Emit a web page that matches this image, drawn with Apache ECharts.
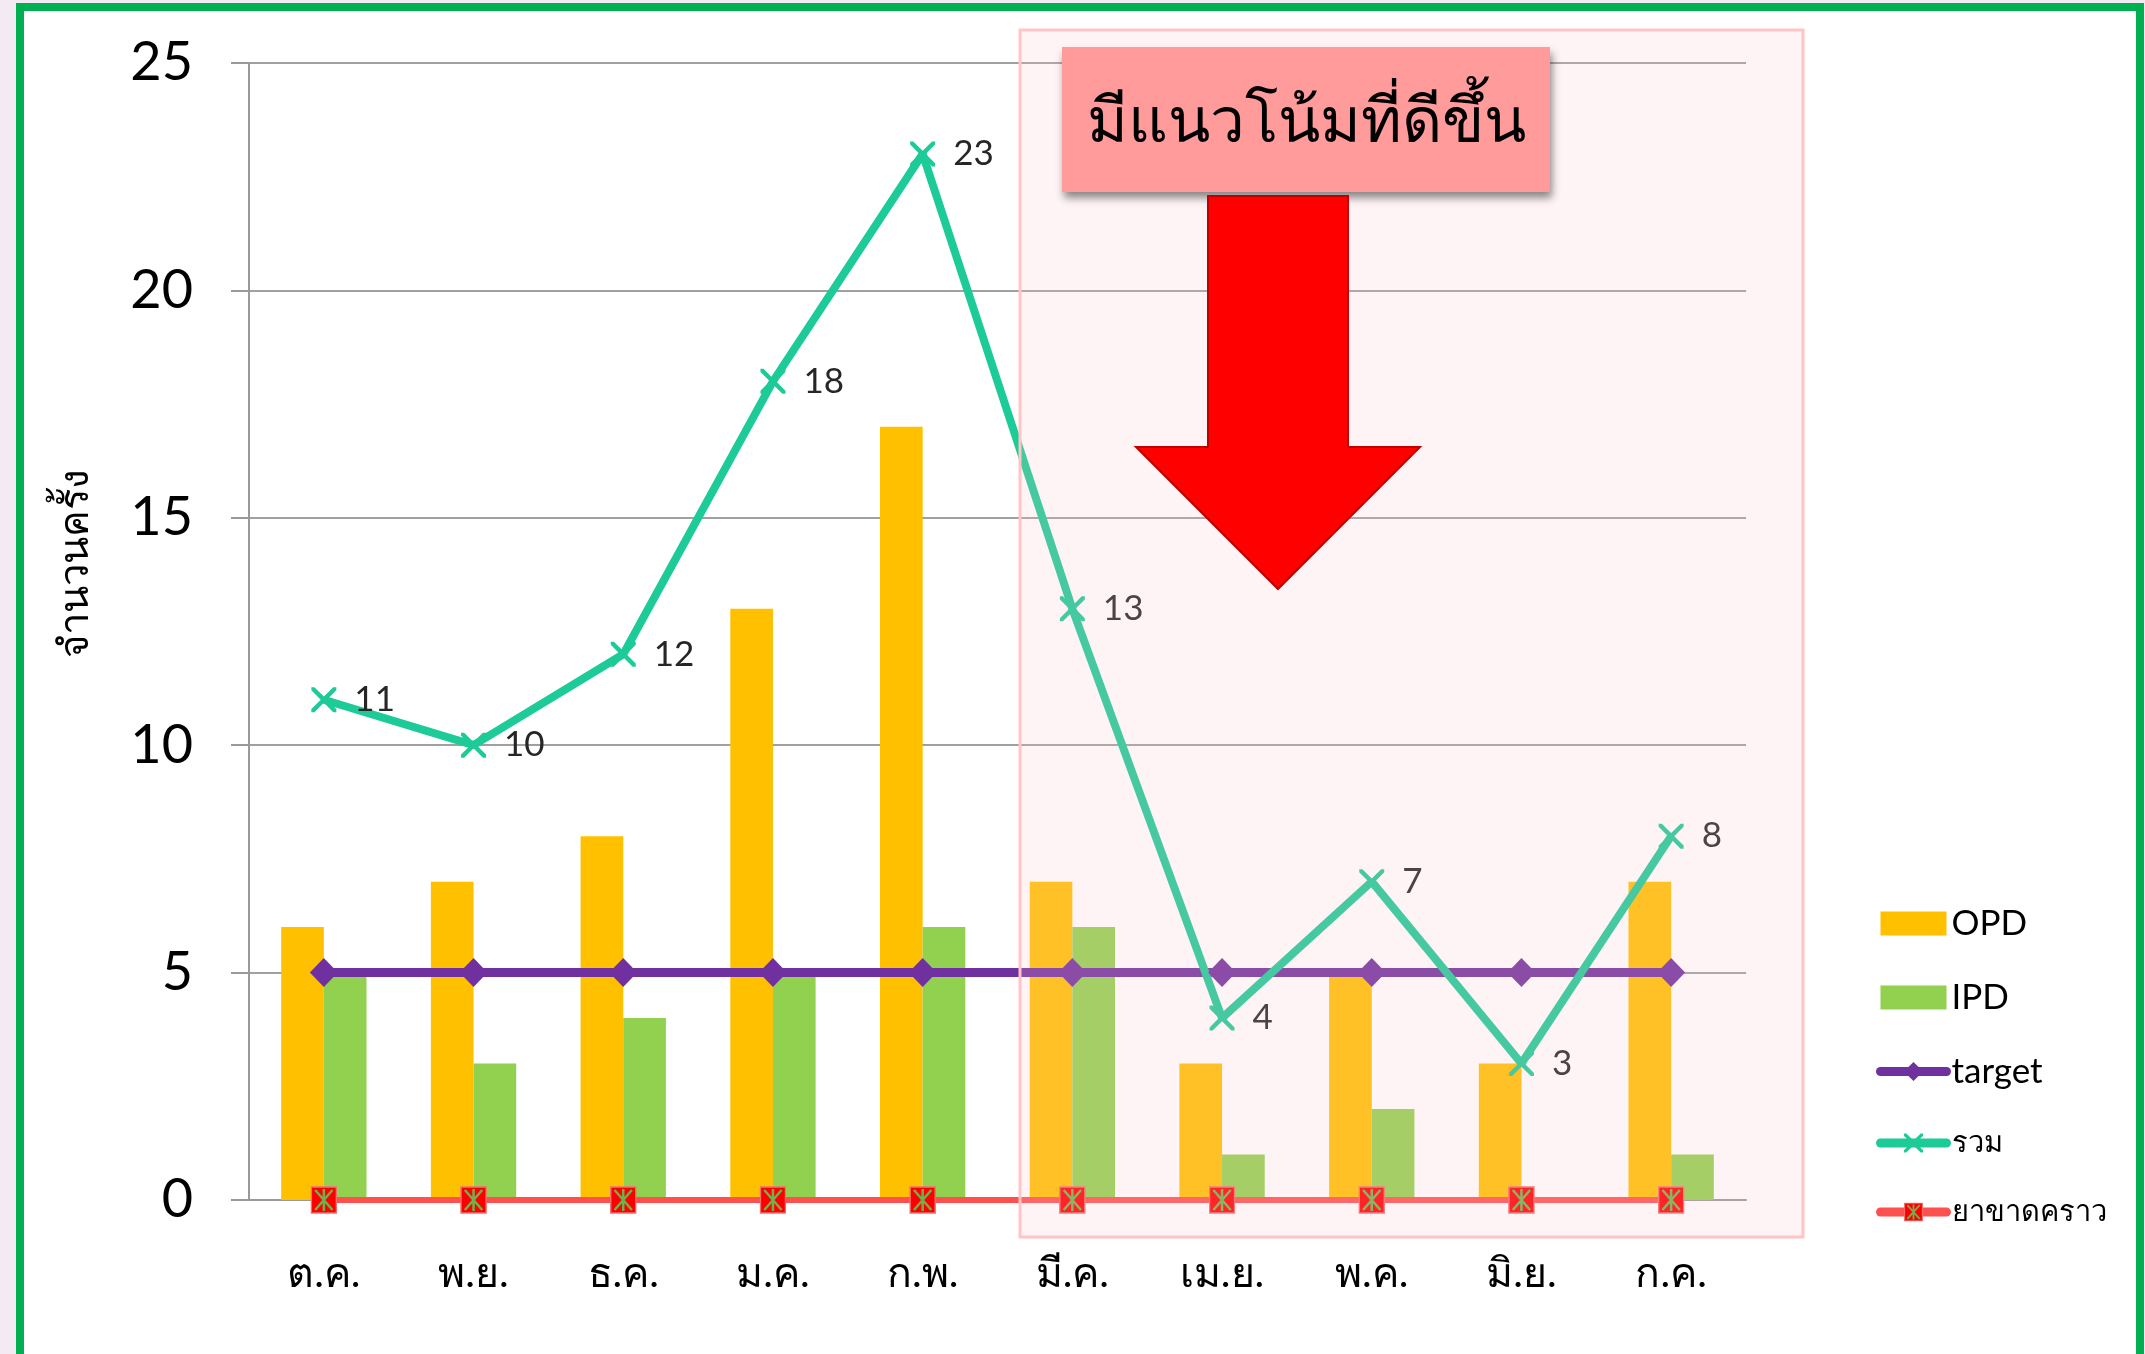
<!DOCTYPE html>
<html>
<head>
<meta charset="utf-8">
<style>
	html,body{
		margin:0;
		padding:0;
		width:2145px;
		height:1354px;
		overflow:hidden;
		background:#F4EAF4;
	}
	.frame{
		position:absolute;
		left:16px;
		top:3px;
		width:2112px;
		height:1400px;
		background:#fff;
		border:8px solid #00B050;
	}
	#main{
		position:absolute;
		left:0;
		top:0;
		width:2145px;
		height:1354px;
	}
</style>
<script src="https://cdn.jsdelivr.net/npm/echarts@6/dist/echarts.min.js"></script>
</head>
<body>
<div class="frame"></div>
<div id="main"></div>
<script>
var months = ['ต.ค.', 'พ.ย.', 'ธ.ค.', 'ม.ค.', 'ก.พ.', 'มี.ค.', 'เม.ย.', 'พ.ค.', 'มิ.ย.', 'ก.ค.'];
var opd = [6, 7, 8, 13, 17, 7, 3, 5, 3, 7];
var ipd = [5, 3, 4, 5, 6, 6, 1, 2, 0, 1];
var target = [5, 5, 5, 5, 5, 5, 5, 5, 5, 5];
var total = [11, 10, 12, 18, 23, 13, 4, 7, 3, 8];
var missing = [0, 0, 0, 0, 0, 0, 0, 0, 0, 0];
var yTicks = [0, 5, 10, 15, 20, 25];

var font = 'Lato, "Noto Sans", sans-serif';

// X mark for the total line
var crossPath = 'path://M0,0 L2.5,0 L10,7.5 L17.5,0 L20,0 L20,2.5 L12.5,10 L20,17.5 L20,20 L17.5,20 L10,12.5 L2.5,20 L0,20 L0,17.5 L7.5,10 L0,2.5 Z';

// red box with green star marker
var starSvg = "<svg xmlns='http://www.w3.org/2000/svg' width='28' height='28' viewBox='0 0 28 28'>" +
	"<rect x='1' y='1' width='26' height='26' fill='#FF0000' stroke='#F07070' stroke-width='1.5'/>" +
	"<path d='M5 4 L23 24 M23 4 L5 24 M14 3 L14 25' stroke='#72B04E' stroke-width='2.6'/></svg>";
var starSymbol = 'image://data:image/svg+xml;charset=utf-8,' + encodeURIComponent(starSvg);

var legendLine = {width: 9, cap: 'round'};

var myChart = echarts.init(document.getElementById('main'));
var option = {
	backgroundColor: 'transparent',
	animation: false,
	grid: {
		left: 249,
		right: 399,
		top: 63,
		bottom: 154
	},
	legend: {
		orient: 'vertical',
		left: 1871,
		top: 901,
		itemWidth: 66,
		itemHeight: 24,
		itemGap: 39,
		formatter: function(name){
			// thai names are drawn a bit smaller
			return /[A-Za-z]/.test(name) ? name : '{th|' + name + '}';
		},
		textStyle: {
			fontFamily: font,
			fontSize: 35,
			lineHeight: 30,
			color: '#000',
			rich: {
				th: {fontFamily: font, fontSize: 29, lineHeight: 30, color: '#000'}
			}
		},
		data: [
			{name: 'OPD', icon: 'rect'},
			{name: 'IPD', icon: 'rect'},
			{name: 'target', lineStyle: legendLine},
			{name: 'รวม', lineStyle: legendLine},
			{name: 'ยาขาดคราว', lineStyle: legendLine}
		]
	},
	xAxis: {
		type: 'category',
		data: months,
		axisLine: {lineStyle: {color: '#999', width: 2}},
		axisTick: {length: 18, lineStyle: {color: '#999', width: 2}},
		axisLabel: {
			margin: 53,
			fontFamily: font,
			fontSize: 41,
			color: '#000'
		}
	},
	yAxis: {
		type: 'value',
		min: yTicks[0],
		max: yTicks[yTicks.length - 1],
		interval: 5,
		axisLine: {show: true, lineStyle: {color: '#999', width: 2}},
		axisTick: {show: true, length: 18, lineStyle: {color: '#999', width: 2}},
		axisLabel: {
			margin: 56,
			fontFamily: font,
			fontSize: 54,
			color: '#000'
		},
		splitLine: {lineStyle: {color: '#A0A0A0', width: 2}}
	},
	series: [
		{
			name: 'OPD',
			type: 'bar',
			barGap: '0%',
			barCategoryGap: '43%',
			itemStyle: {color: '#FFC000'},
			data: opd
		},
		{
			name: 'IPD',
			type: 'bar',
			itemStyle: {color: '#92D050'},
			data: ipd
		},
		{
			name: 'target',
			type: 'line',
			symbol: 'diamond',
			symbolSize: [28, 29],
			lineStyle: {color: '#7030A0', width: 9},
			itemStyle: {color: '#7030A0'},
			data: target
		},
		{
			name: 'รวม',
			type: 'line',
			symbol: crossPath,
			symbolSize: 25,
			lineStyle: {color: '#1CCB97', width: 8},
			itemStyle: {color: '#1CCB97'},
			label: {
				show: true,
				position: 'right',
				distance: 18,
				fontFamily: font,
				fontSize: 35,
				color: '#262626'
			},
			data: total
		},
		{
			name: 'ยาขาดคราว',
			type: 'line',
			symbol: starSymbol,
			symbolSize: [27, 28],
			lineStyle: {color: '#FF5050', width: 6},
			itemStyle: {color: '#FF5050'},
			data: missing
		}
	],
	graphic: [
		{
			// y axis title, sits above the axis middle like the original
			type: 'text',
			rotation: Math.PI / 2,
			x: 75,
			y: 563,
			style: {
				text: 'จำนวนครั้ง',
				fontFamily: font,
				fontSize: 40,
				fill: '#000',
				align: 'center',
				verticalAlign: 'middle'
			}
		},
		{
			type: 'rect',
			z: 50,
			shape: {x: 1020, y: 30, width: 783, height: 1207},
			style: {fill: 'rgba(255,195,200,0.19)', stroke: '#FFC4C4', lineWidth: 3}
		},
		{
			type: 'rect',
			z: 60,
			shape: {x: 1062, y: 47, width: 488, height: 145},
			style: {
				fill: '#FF9B9B',
				shadowBlur: 8,
				shadowOffsetX: 2,
				shadowOffsetY: 6,
				shadowColor: 'rgba(0,0,0,0.45)'
			}
		},
		{
			type: 'text',
			z: 61,
			style: {
				x: 1306,
				y: 122,
				text: 'มีแนวโน้มที่ดีขึ้น',
				fontFamily: font,
				fontSize: 62,
				fill: '#000',
				align: 'center',
				verticalAlign: 'middle'
			}
		},
		{
			type: 'polygon',
			z: 60,
			shape: {
				points: [[1208, 196], [1348, 196], [1348, 447], [1420, 447], [1278, 589], [1136, 447], [1208, 447]]
			},
			style: {fill: '#FF0000', stroke: '#C00000', lineWidth: 2}
		}
	]
};
myChart.setOption(option);
</script>
</body>
</html>
